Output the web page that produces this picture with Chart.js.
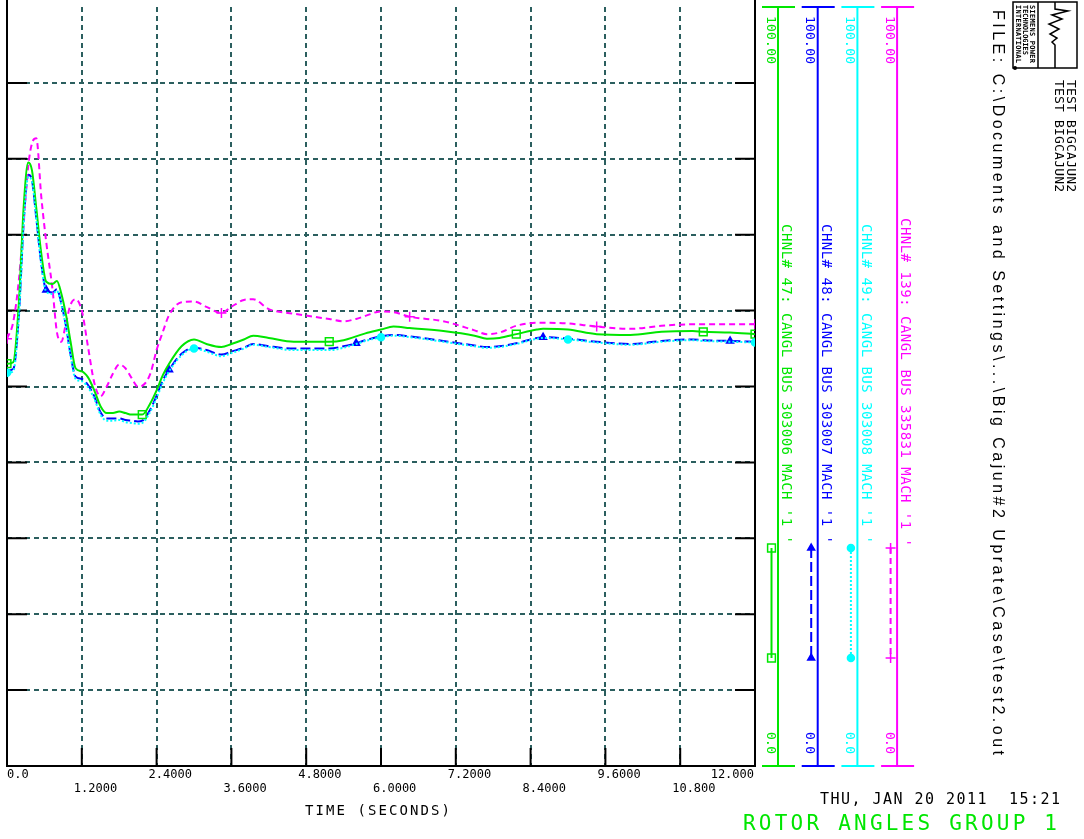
<!DOCTYPE html>
<html>
<head>
<meta charset="utf-8">
<script src="https://cdn.jsdelivr.net/npm/chart.js@4.4.1/dist/chart.umd.min.js"></script>
<style>
html, body { margin: 0; padding: 0; background: #fff; }
#wrap { width: 1084px; height: 839px; position: relative; }
</style>
</head>
<body>
<div id="wrap"><canvas id="rotorChart"></canvas></div>
<script>
// time axis (seconds) shared by all channels
const time = [0, 0.1, 0.19, 0.27, 0.34, 0.4, 0.47, 0.55, 0.63, 0.73, 0.8, 0.87, 0.95, 1.02, 1.1, 1.2, 1.3, 1.4, 1.5, 1.6,
  1.7, 1.8, 1.9, 2.0, 2.1, 2.17, 2.3, 2.4, 2.5, 2.6, 2.8, 3.0, 3.2, 3.44, 3.6, 3.8, 3.95, 4.2, 4.6, 5.0,
  5.17, 5.4, 5.6, 5.75, 6.0, 6.2, 6.46, 7.0, 7.5, 7.7, 7.9, 8.17, 8.5, 8.6, 9.0, 9.46, 10.0, 10.5, 11.0, 11.17,
  11.6, 12.0];

// rotor angles (deg)
const chnl47 = [53.0, 53.2, 61.0, 74.0, 79.5, 78.5, 73.5, 67.5, 63.8, 63.5, 63.9, 62.3, 59.3, 55.9, 52.4, 52.0, 51.2, 49.5, 47.4, 46.5,
  46.5, 46.7, 46.5, 46.3, 46.3, 46.3, 47.8, 49.5, 51.5, 53.0, 55.3, 56.2, 55.6, 55.2, 55.6, 56.2, 56.7, 56.4, 55.9, 55.9,
  55.9, 56.1, 56.6, 57.0, 57.5, 57.9, 57.7, 57.3, 56.7, 56.3, 56.4, 56.9, 57.5, 57.6, 57.5, 56.9, 56.8, 57.2, 57.3, 57.2,
  57.1, 56.9];
const chnl48 = [52.1, 52.3, 59.4, 72.0, 77.9, 77.2, 72.2, 66.2, 62.7, 62.4, 62.8, 61.0, 57.8, 54.2, 51.3, 51.0, 50.2, 48.7, 46.6, 45.8,
  45.8, 45.8, 45.6, 45.5, 45.4, 45.5, 47.0, 48.8, 50.8, 52.2, 54.3, 55.1, 54.8, 54.2, 54.6, 55.1, 55.6, 55.3, 55.0, 55.0,
  55.0, 55.3, 55.7, 56.1, 56.6, 56.8, 56.6, 56.0, 55.4, 55.2, 55.3, 55.7, 56.4, 56.5, 56.3, 55.9, 55.6, 56.0, 56.2, 56.1,
  56.0, 55.9];
const chnl49 = [51.8, 52.0, 59.0, 71.6, 77.6, 77.0, 72.0, 66.0, 62.5, 62.2, 62.6, 60.8, 57.6, 54.0, 51.0, 50.7, 49.9, 48.4, 46.3, 45.5,
  45.5, 45.6, 45.3, 45.2, 45.1, 45.2, 46.7, 48.5, 50.5, 52.0, 54.1, 55.0, 54.6, 54.0, 54.4, 55.0, 55.5, 55.2, 54.8, 54.8,
  54.8, 55.1, 55.6, 56.0, 56.5, 56.7, 56.5, 55.9, 55.3, 55.1, 55.2, 55.6, 56.3, 56.4, 56.2, 55.8, 55.5, 55.9, 56.1, 56.0,
  55.9, 55.8];
const chnl139 = [56.3, 58.5, 64.0, 72.0, 79.0, 82.0, 82.7, 75.0, 69.0, 62.8, 57.2, 55.9, 58.5, 60.8, 61.5, 60.0, 55.2, 50.5, 48.7, 50.0,
  51.7, 52.9, 52.4, 51.1, 50.0, 50.1, 51.7, 54.8, 57.2, 59.4, 61.1, 61.2, 60.5, 59.7, 60.5, 61.4, 61.5, 60.2, 59.6, 59.1,
  58.9, 58.6, 58.9, 59.3, 59.9, 59.8, 59.2, 58.6, 57.4, 56.9, 57.1, 58.0, 58.4, 58.4, 58.3, 57.9, 57.6, 58.0, 58.2, 58.2,
  58.2, 58.2];

// sample indices where the plotter drew a symbol
const marks47 = [0, 25, 40, 51, 59, 61];
const marks48 = [8, 29, 42, 53, 60];
const marks49 = [0, 31, 44, 54, 61];
const marks139 = [0, 33, 46, 55, 61];

const xTickValues = [0, 1.2, 2.4, 3.6, 4.8, 6.0, 7.2, 8.4, 9.6, 10.8, 12.0];
const xTickLabels = ['0.0', '1.2000', '2.4000', '3.6000', '4.8000', '6.0000', '7.2000', '8.4000', '9.6000', '10.800', '12.000'];
const yTickValues = [0, 10, 20, 30, 40, 50, 60, 70, 80, 90, 100];
const channelNames = [
  "CHNL# 47: CANGL BUS 303006 MACH '1 '",
  "CHNL# 48: CANGL BUS 303007 MACH '1 '",
  "CHNL# 49: CANGL BUS 303008 MACH '1 '",
  "CHNL# 139: CANGL BUS 335831 MACH '1 '"
];
const axisMax = '100.00';
const axisMin = '0.0';

const MONO = '"DejaVu Sans Mono", monospace';
const GRID = '#2b5e5e';

function series(label, values, color, dash, style, radius, marks, fill, order) {
  return {
    label: label,
    data: time.map((t, i) => ({ x: t, y: values[i] })),
    borderColor: color,
    borderWidth: 2,
    borderDash: dash,
    backgroundColor: color,
    pointStyle: style,
    pointBorderColor: color,
    pointBackgroundColor: fill,
    pointBorderWidth: 1.5,
    markRadius: radius,
    pointRadius: c => marks.includes(c.dataIndex) ? radius : 0,
    pointHoverRadius: 0,
    cubicInterpolationMode: 'monotone',
    fill: false,
    order: order
  };
}

// draw a string turned 90deg clockwise, spread to a given length
function vText(ctx, text, x, y, font, color, len) {
  ctx.save();
  ctx.translate(x, y);
  ctx.rotate(Math.PI / 2);
  ctx.font = font;
  ctx.fillStyle = color;
  ctx.textAlign = 'left';
  ctx.textBaseline = 'middle';
  if (len) {
    ctx.letterSpacing = '0px';
    const w = ctx.measureText(text).width;
    ctx.letterSpacing = ((len - w) / Math.max(1, text.length - 1)) + 'px';
  }
  ctx.fillText(text, 0, 0);
  ctx.restore();
}

function hText(ctx, text, x, y, font, color, len) {
  ctx.save();
  ctx.font = font;
  ctx.fillStyle = color;
  ctx.textAlign = 'left';
  ctx.textBaseline = 'middle';
  if (len) {
    ctx.letterSpacing = '0px';
    const w = ctx.measureText(text).width;
    ctx.letterSpacing = ((len - w) / Math.max(1, text.length - 1)) + 'px';
  }
  ctx.fillText(text, x, y);
  ctx.restore();
}

const frame = {
  id: 'frame',
  beforeDatasetsDraw(chart) {
    const { ctx, chartArea: a, scales: { x, y } } = chart;
    ctx.save();
    ctx.strokeStyle = '#000';
    ctx.lineWidth = 2;
    ctx.beginPath();
    ctx.moveTo(a.left, 0); ctx.lineTo(a.left, a.bottom); ctx.lineTo(a.right, a.bottom); ctx.lineTo(a.right, 0);
    yTickValues.slice(1, -1).forEach(v => {
      const py = y.getPixelForValue(v);
      ctx.moveTo(a.left, py); ctx.lineTo(a.left + 20, py);
      ctx.moveTo(a.right - 20, py); ctx.lineTo(a.right, py);
    });
    xTickValues.slice(1, -1).forEach(v => {
      const px = x.getPixelForValue(v);
      ctx.moveTo(px, a.bottom); ctx.lineTo(px, a.bottom - 18);
    });
    ctx.stroke();
    ctx.restore();
  },
  afterDraw(chart) {
    const { ctx, chartArea: a, scales: { x } } = chart;

    // x tick labels in two staggered rows
    ctx.save();
    ctx.font = '12px ' + MONO;
    ctx.fillStyle = '#000';
    ctx.textBaseline = 'middle';
    const last = xTickValues.length - 1;
    xTickValues.forEach((v, i) => {
      const px = x.getPixelForValue(v);
      let tx = px - 8;
      ctx.textAlign = 'left';
      if (i === 0) tx = a.left;
      if (i === last) { tx = a.right - 1; ctx.textAlign = 'right'; }
      ctx.fillText(xTickLabels[i], tx, a.bottom + 9 + (i % 2) * 14);
    });
    ctx.restore();
    hText(ctx, 'TIME (SECONDS)', 305, 811, '14px ' + MONO, '#000', 145);

    // one vertical scale per channel on the right
    chart.data.datasets.forEach((ds, i) => {
      const ax = a.right + 23 + i * 39.7;
      ctx.save();
      ctx.strokeStyle = ds.borderColor;
      ctx.lineWidth = 2;
      ctx.beginPath();
      ctx.moveTo(ax, a.top); ctx.lineTo(ax, a.bottom);
      ctx.moveTo(ax - 16, a.top); ctx.lineTo(ax + 17, a.top);
      ctx.moveTo(ax - 16, a.bottom); ctx.lineTo(ax + 17, a.bottom);
      ctx.stroke();
      // sample of the line style
      const sx = ax - 6.5, y1 = 548, y2 = 658;
      ctx.setLineDash(ds.borderDash || []);
      ctx.beginPath();
      ctx.moveTo(sx, y1); ctx.lineTo(sx, y2);
      ctx.stroke();
      ctx.setLineDash([]);
      ctx.fillStyle = ds.pointBackgroundColor;
      ctx.lineWidth = ds.pointBorderWidth;
      [y1, y2].forEach(py => Chart.helpers.drawPoint(ctx, { pointStyle: ds.pointStyle, radius: ds.markRadius, rotation: 0, borderWidth: ds.pointBorderWidth }, sx, py));
      ctx.restore();

      vText(ctx, axisMax, ax - 8, a.top + 9, '13px ' + MONO, ds.borderColor, 48);
      vText(ctx, axisMin, ax - 8, 732, '13px ' + MONO, ds.borderColor, 22);
      const start = i === 3 ? 218 : 224;
      vText(ctx, channelNames[i], ax + 8, start, '14px ' + MONO, ds.borderColor, i === 3 ? 329 : 320);
    });

    // case header
    vText(ctx, 'TEST BIGCAJUN2', 1070, 80, '13px ' + MONO, '#000', 112);
    vText(ctx, 'TEST BIGCAJUN2', 1058, 80, '13px ' + MONO, '#000', 112);
    vText(ctx, 'FILE: C:\\Documents and Settings\\...\\Big Cajun#2 Uprate\\Case\\test2.out', 997, 10,
      '16px "Liberation Sans", Arial, sans-serif', '#000', 745);

    // logo box
    ctx.save();
    ctx.strokeStyle = '#000';
    ctx.lineWidth = 1.5;
    ctx.strokeRect(1013, 2, 64, 66);
    ctx.beginPath();
    ctx.moveTo(1038, 2); ctx.lineTo(1038, 68);
    ctx.moveTo(1055, 2); ctx.lineTo(1055, 9); ctx.lineTo(1068, 11); ctx.lineTo(1052, 15); ctx.lineTo(1062, 19);
    ctx.lineTo(1049, 24); ctx.lineTo(1059, 29); ctx.lineTo(1050, 34); ctx.lineTo(1057, 38); ctx.lineTo(1052, 42);
    ctx.lineTo(1055, 45); ctx.lineTo(1055, 68);
    ctx.stroke();
    ctx.fillStyle = '#000';
    ctx.beginPath(); ctx.arc(1015, 68, 2, 0, Math.PI * 2); ctx.fill();
    ctx.restore();
    vText(ctx, 'SIEMENS POWER', 1032, 5, 'bold 7px ' + MONO, '#000', 58);
    vText(ctx, 'TECHNOLOGIES', 1025, 5, 'bold 7px ' + MONO, '#000', 50);
    vText(ctx, 'INTERNATIONAL', 1018, 5, 'bold 7px ' + MONO, '#000', 58);

    // footer
    hText(ctx, 'THU, JAN 20 2011  15:21', 820, 800, '15px ' + MONO, '#000', 240);
    hText(ctx, 'ROTOR ANGLES GROUP 1', 743, 825, '21px ' + MONO, '#00e600', 314);
  }
};

new Chart(document.getElementById('rotorChart'), {
  type: 'line',
  data: {
    datasets: [
      series(channelNames[0], chnl47, '#00e600', [], 'rect', 5.5, marks47, 'rgba(0,0,0,0)', 1),
      series(channelNames[1], chnl48, '#0000ff', [10, 4], 'triangle', 4, marks48, '#0000ff', 3),
      series(channelNames[2], chnl49, '#00ffff', [2, 2], 'circle', 3.5, marks49, '#00ffff', 0),
      series(channelNames[3], chnl139, '#ff00ff', [6, 4], 'cross', 5, marks139, '#ff00ff', 2)
    ]
  },
  options: {
    responsive: true,
    maintainAspectRatio: false,
    animation: false,
    events: [],
    layout: { padding: { left: 7, top: 4, right: 329, bottom: 73 } },
    plugins: { legend: { display: false }, tooltip: { enabled: false } },
    scales: {
      x: {
        type: 'linear', min: 0, max: 12,
        afterBuildTicks: s => { s.ticks = xTickValues.map(v => ({ value: v })); },
        ticks: { display: false },
        grid: { color: GRID, lineWidth: 2, drawTicks: false },
        border: { display: false, dash: [5, 4] }
      },
      y: {
        min: 0, max: 100,
        afterBuildTicks: s => { s.ticks = yTickValues.slice(0, -1).map(v => ({ value: v })); },
        ticks: { display: false },
        grid: { color: GRID, lineWidth: 2, drawTicks: false },
        border: { display: false, dash: [5, 4] }
      }
    }
  },
  plugins: [frame]
});
</script>
</body>
</html>
